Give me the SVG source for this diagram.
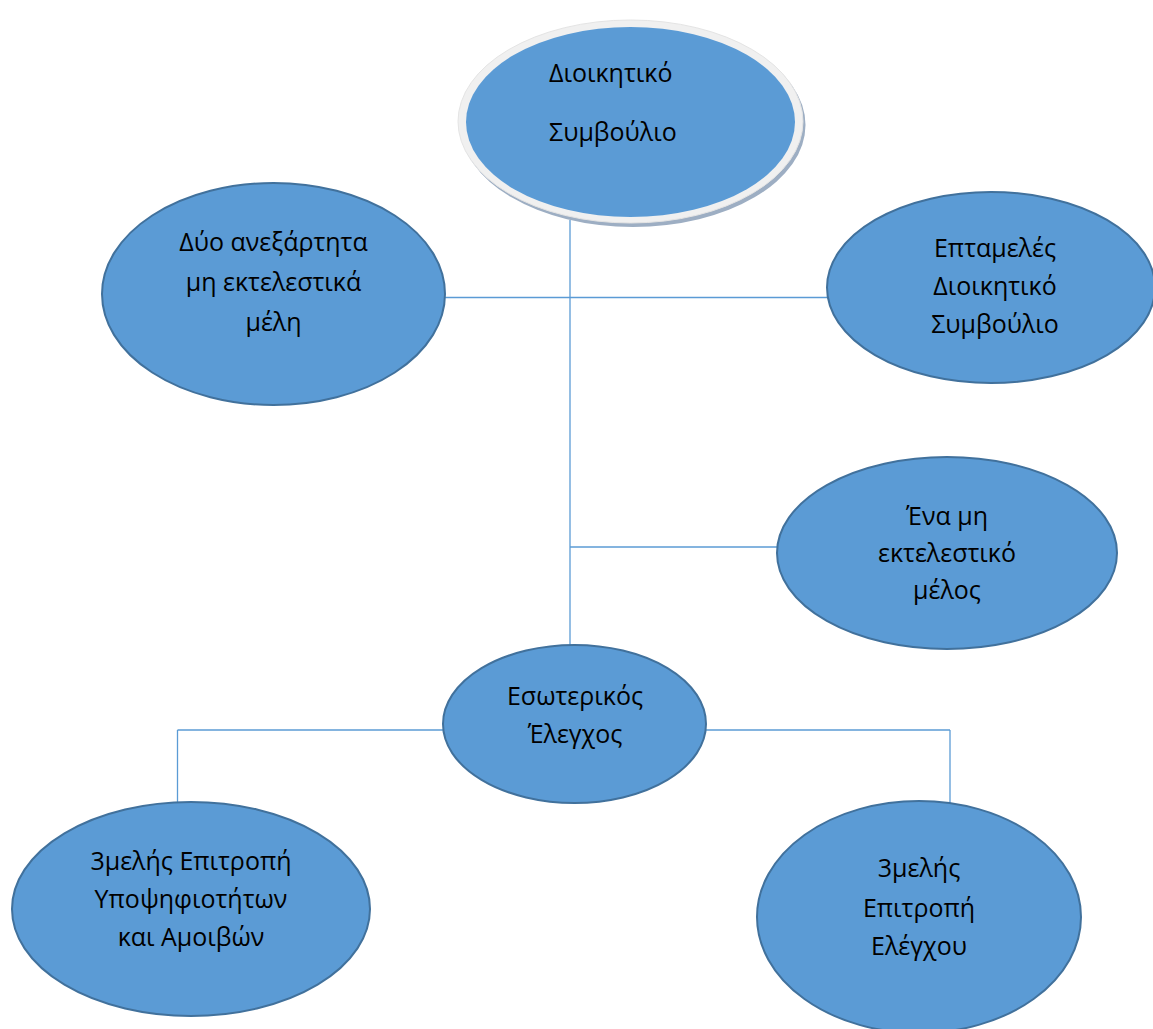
<svg xmlns="http://www.w3.org/2000/svg" width="1153" height="1029" viewBox="0 0 1153 1029">
<style>
.node ellipse.n{fill:#5B9BD5;stroke:#41719C;stroke-width:2}
.node text{font-family:"Open Sans","Noto Sans",sans-serif;font-size:25px;fill:#000;text-anchor:middle}
#top text{text-anchor:start}
#connectors line{stroke:#5B9BD5;stroke-width:1.3}
</style>
<rect width="1153" height="1029" fill="#fff"/>
<g id="connectors">
<line x1="570" y1="220" x2="570" y2="646"/>
<line x1="445" y1="297.5" x2="828" y2="297.5"/>
<line x1="570" y1="547" x2="778" y2="547"/>
<line x1="177.5" y1="730" x2="444" y2="730"/>
<line x1="177.5" y1="730" x2="177.5" y2="802"/>
<line x1="706" y1="730" x2="950" y2="730"/>
<line x1="950" y1="730" x2="950" y2="803"/>
</g>
<g id="top" class="node">
<ellipse cx="633" cy="125" rx="172.5" ry="102" fill="#9DAEC3"/>
<ellipse cx="630.5" cy="121.5" rx="172.5" ry="101.5" fill="#F0F0F0" stroke="#E4E4E4" stroke-width="1"/>
<ellipse cx="630.5" cy="122" rx="164.5" ry="95" fill="#5B9BD5"/>
<text x="549" y="82">Διοικητικό</text>
<text x="549" y="141">Συμβούλιο</text>
</g>
<g id="left" class="node">
<ellipse class="n" cx="273.5" cy="294" rx="171.5" ry="111"/>
<text x="273.5" y="251">Δύο ανεξάρτητα</text>
<text x="273.5" y="291">μη εκτελεστικά</text>
<text x="273.5" y="331">μέλη</text>
</g>
<g id="right" class="node">
<ellipse class="n" cx="991" cy="287.5" rx="164" ry="95.5"/>
<text x="995" y="257">Επταμελές</text>
<text x="995" y="295">Διοικητικό</text>
<text x="995" y="333">Συμβούλιο</text>
</g>
<g id="one" class="node">
<ellipse class="n" cx="947" cy="553" rx="170" ry="96"/>
<text x="947" y="525">Ένα μη</text>
<text x="947" y="562">εκτελεστικό</text>
<text x="947" y="599">μέλος</text>
</g>
<g id="internal" class="node">
<ellipse class="n" cx="574.5" cy="724" rx="131.5" ry="79"/>
<text x="575" y="705">Εσωτερικός</text>
<text x="575" y="743">Έλεγχος</text>
</g>
<g id="nominations" class="node">
<ellipse class="n" cx="191" cy="909" rx="179" ry="107"/>
<text x="191" y="870">3μελής Επιτροπή</text>
<text x="191" y="908">Υποψηφιοτήτων</text>
<text x="191" y="946">και Αμοιβών</text>
</g>
<g id="audit" class="node">
<ellipse class="n" cx="919" cy="917" rx="162" ry="116"/>
<text x="919" y="877">3μελής</text>
<text x="919" y="917">Επιτροπή</text>
<text x="919" y="955">Ελέγχου</text>
</g>
</svg>
